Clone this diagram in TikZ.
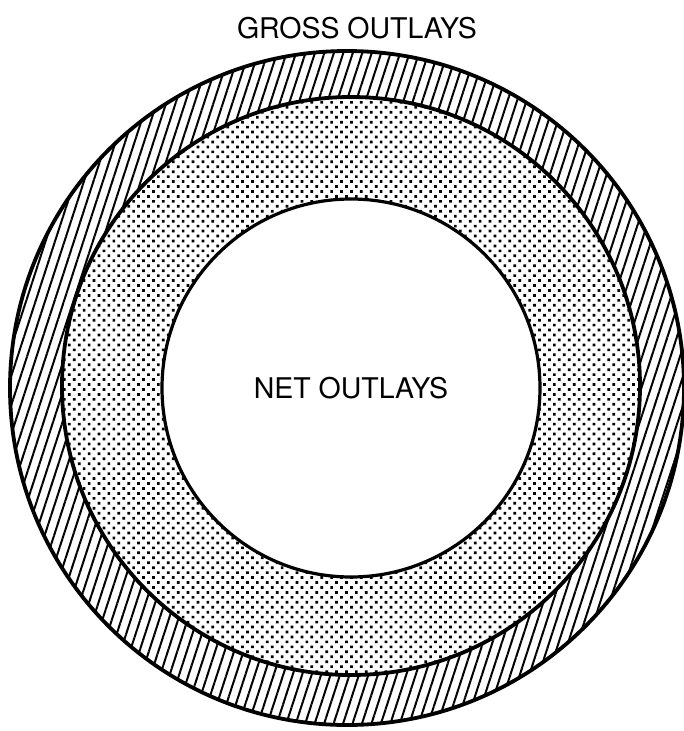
\documentclass[tikz,border=0pt]{standalone}
\usepackage{fontspec}
\setmainfont{TeX Gyre Heros}
\usepackage{tikz}
\usetikzlibrary{patterns.meta}

\begin{document}
\begin{tikzpicture}[x=1pt,y=-1pt,font=\fontsize{28.5}{31}\selectfont,
 ring/.style={circle,draw,line width=3.8pt,inner sep=0pt,preaction={fill=white}},
 hatched/.style={ring,pattern={Lines[angle=72,distance=9pt,line width=2pt]}},
 dotted/.style={ring,pattern={Dots[radius=1.9pt,distance=7pt,angle=45]}}]
\useasboundingbox (0,0) rectangle (684,731);
\node[hatched,minimum size=674pt] (gross) at (347,388) {};
\node[dotted,minimum size=578pt] (mid) at (351,386) {};
\node[ring,fill=white,line width=3.2pt,minimum size=378pt] (net) at (351,388) {};
\node (grosslabel) at (357,28) {GROSS OUTLAYS};
\node (netlabel) at (net) {NET OUTLAYS};
\end{tikzpicture}
\end{document}
